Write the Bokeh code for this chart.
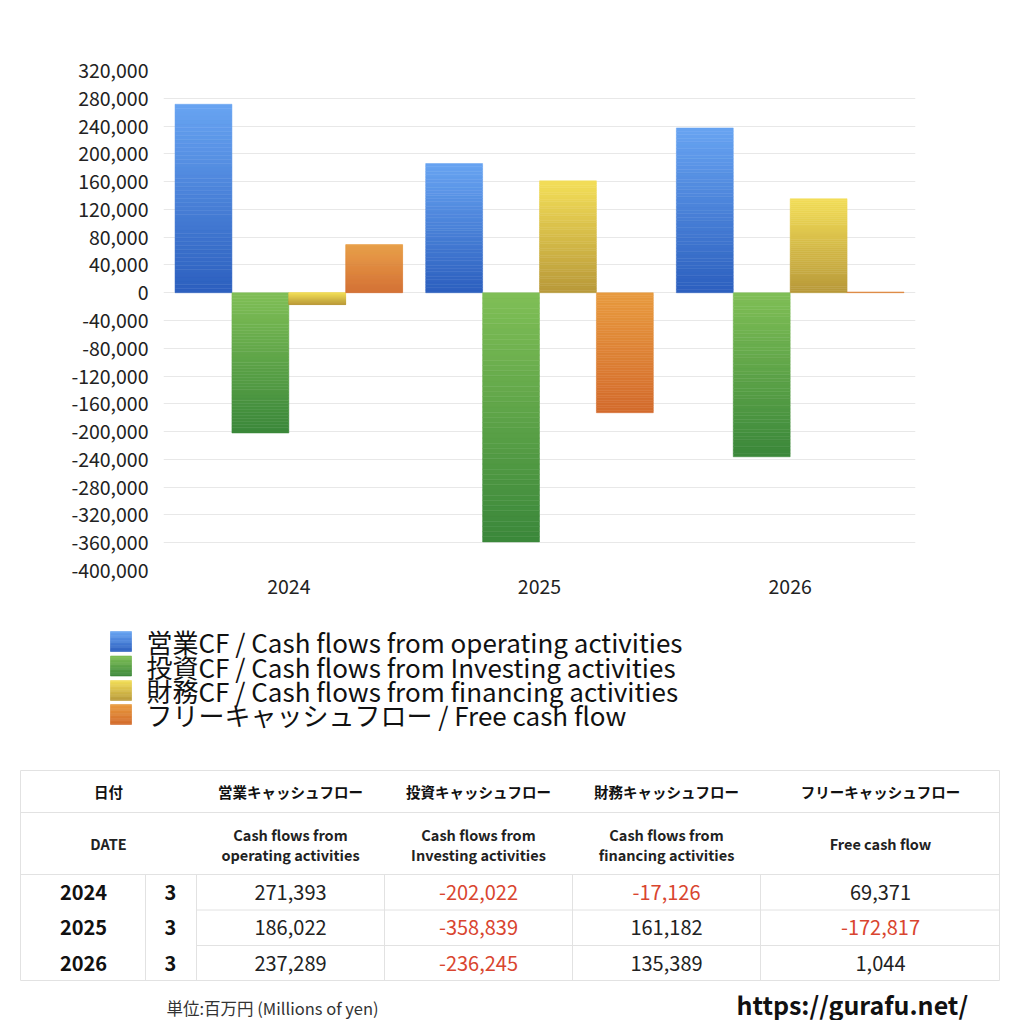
from bokeh.plotting import figure
from bokeh.layouts import column, row
from bokeh.models import Range1d, FixedTicker, NumeralTickFormatter, ColumnDataSource
from bokeh.core.properties import value
from bokeh.embed import file_html
from bokeh.resources import INLINE

# ---------------- data ----------------
years = ["2024", "2025", "2026"]
months = ["3", "3", "3"]
operating = [271393, 186022, 237289]
investing = [-202022, -358839, -236245]
financing = [-17126, 161182, 135389]
free_cf = [69371, -172817, 1044]
series_names = [
    "営業CF / Cash flows from operating activities",
    "投資CF / Cash flows from Investing activities",
    "財務CF / Cash flows from financing activities",
    "フリーキャッシュフロー / Free cash flow",
]
head_jp = ["営業キャッシュフロー", "投資キャッシュフロー", "財務キャッシュフロー", "フリーキャッシュフロー"]
head_en = [["Cash flows from", "operating activities"],
           ["Cash flows from", "Investing activities"],
           ["Cash flows from", "financing activities"],
           ["Free cash flow"]]
y_ticks = list(range(-400000, 320001, 40000))
unit_label = "単位:百万円 (Millions of yen)"
site_label = "https://gurafu.net/"

# ---------------- style ----------------
FONT = "Noto Sans CJK JP"
grads = [("#2c5fbe", "#68a4f2"),   # bottom, top
         ("#3a873a", "#80bf56"),
         ("#b8993a", "#f3de58"),
         ("#d36a2c", "#e89a3e")]
NSEG = 48
BW = 0.227


def mix(c1, c2, t):
    a = [int(c1[i:i + 2], 16) for i in (1, 3, 5)]
    b = [int(c2[i:i + 2], 16) for i in (1, 3, 5)]
    return "#%02x%02x%02x" % tuple(round(a[k] + (b[k] - a[k]) * t) for k in range(3))


def grad_quads(l, r, b, t, c_bot, c_top, n):
    L, R, B, T, C = [], [], [], [], []
    for k in range(n):
        y0 = b + (t - b) * k / n
        y1 = b + (t - b) * (k + 1) / n
        L.append(l); R.append(r); B.append(y0); T.append(y1)
        C.append(mix(c_bot, c_top, (k + 0.5) / n))
    return L, R, B, T, C


# ---------------- chart ----------------
W = 1008
H1 = 605
p = figure(width=W, height=H1, output_backend="svg", toolbar_location=None,
           x_range=Range1d(0, 3), y_range=Range1d(-400000, 320000),
           min_border_left=163, min_border_right=W - 915, min_border_top=70,
           min_border_bottom=H1 - 570)
p.outline_line_color = None
p.background_fill_color = "white"
p.border_fill_color = "white"

all_series = [operating, investing, financing, free_cf]
L, R, B, T, C = [], [], [], [], []
for j, ser in enumerate(all_series):
    for i, v in enumerate(ser):
        left = i + 0.5 + (j - 2) * BW
        n = NSEG if abs(v) > 5000 else 1
        l_, r_, b_, t_, c_ = grad_quads(left, left + BW, min(v, 0), max(v, 0),
                                         grads[j][0], grads[j][1], n)
        L += l_; R += r_; B += b_; T += t_; C += c_
src = ColumnDataSource(dict(left=L, right=R, bottom=B, top=T, color=C))
p.quad(left="left", right="right", bottom="bottom", top="top", source=src,
       fill_color="color", line_color="color", line_width=0.5)

p.yaxis.ticker = FixedTicker(ticks=y_ticks)
p.yaxis.formatter = NumeralTickFormatter(format="0,0")
p.yaxis.axis_line_color = None
p.yaxis.major_tick_line_color = None
p.yaxis.minor_tick_line_color = None
p.yaxis.major_label_standoff = 9
p.yaxis.major_label_text_font = FONT
p.yaxis.major_label_text_font_size = "19.5px"
p.yaxis.major_label_text_color = "#222222"

p.xaxis.ticker = FixedTicker(ticks=[i + 0.5 for i in range(len(years))])
p.xaxis.major_label_overrides = {i + 0.5: y for i, y in enumerate(years)}
p.xaxis.axis_line_color = None
p.xaxis.major_tick_line_color = None
p.xaxis.minor_tick_line_color = None
p.xaxis.major_label_standoff = 2
p.xaxis.major_label_text_font = FONT
p.xaxis.major_label_text_font_size = "19.5px"
p.xaxis.major_label_text_color = "#222222"

p.xgrid.grid_line_color = None
p.ygrid.ticker = FixedTicker(ticks=y_ticks)
p.ygrid.grid_line_color = "#e8e8e8"
p.ygrid.grid_line_width = 1

# ---------------- legend + table (page coordinates) ----------------
TOP = H1
H2 = 1020 - H1
q = figure(width=W, height=H2, output_backend="svg", toolbar_location=None,
           x_range=Range1d(0, W), y_range=Range1d(TOP + H2, TOP),
           min_border=0, min_border_left=0, min_border_right=0,
           min_border_top=0, min_border_bottom=0)
q.axis.visible = False
q.grid.visible = False
q.outline_line_color = None
q.background_fill_color = "white"
q.border_fill_color = "white"

# legend
leg_y = [641, 665.5, 690, 714]
LL, LR, LB, LT, LC = [], [], [], [], []
for j in range(4):
    l_, r_, b_, t_, c_ = grad_quads(110, 131, leg_y[j] + 10, leg_y[j] - 10,
                                     grads[j][0], grads[j][1], 16)
    LL += l_; LR += r_; LB += b_; LT += t_; LC += c_
q.quad(left=LL, right=LR, bottom=LB, top=LT, fill_color=LC, line_color=LC, line_width=0.6)
q.text(x=[146] * 4, y=leg_y, text=series_names, text_font=value(FONT),
       text_font_size="26px", text_baseline="middle", text_align="left",
       text_color="#111111")

# table lines
GRID = "#e2e2e2"
x0, x1 = 20, 999
ytop, yh1, yh2, yr1, yr2, ybot = 770, 812, 874, 909.5, 945, 980
hx0 = [x0, x0, x0, x0, 196, 196]
hx1 = [x1, x1, x1, x1, x1, x1]
hy = [ytop, yh1, yh2, ybot, yr1, yr2]
q.segment(x0=hx0, y0=hy, x1=hx1, y1=hy, line_color=GRID, line_width=1)
vx = [x0, x1, 145, 196, 384, 572, 760]
vy0 = [ytop, ytop, yh2, yh2, yh2, yh2, yh2]
vy1 = [ybot] * 7
q.segment(x0=vx, y0=vy0, x1=vx, y1=vy1, line_color=GRID, line_width=1)

col_cx = [290, 478, 666, 880]
# header row 1
q.text(x=[108] + col_cx, y=[791] * 5, text=["日付"] + head_jp, text_font=value(FONT),
       text_font_style="bold", text_font_size="14.5px", text_align="center",
       text_baseline="middle", text_color="#111111")
# header row 2
hx, hyy, ht = [108], [843], ["DATE"]
for cx, lines in zip(col_cx, head_en):
    if len(lines) == 2:
        hx += [cx, cx]; hyy += [834, 854]; ht += lines
    else:
        hx.append(cx); hyy.append(843); ht.append(lines[0])
q.text(x=hx, y=hyy, text=ht, text_font=value(FONT), text_font_style="bold",
       text_font_size="14.5px", text_align="center", text_baseline="middle",
       text_color="#222222")

# data rows
row_y = [892, 927, 963]
q.text(x=[83] * 3, y=row_y, text=years, text_font=value(FONT), text_font_style="bold",
       text_font_size="20px", text_align="center", text_baseline="middle",
       text_color="#111111")
q.text(x=[170] * 3, y=row_y, text=months, text_font=value(FONT), text_font_style="bold",
       text_font_size="20px", text_align="center", text_baseline="middle",
       text_color="#111111")
tx, ty, tt, tc = [], [], [], []
for cx, ser in zip(col_cx, all_series):
    for yy, v in zip(row_y, ser):
        tx.append(cx); ty.append(yy); tt.append(f"{v:,}")
        tc.append("#d9452f" if v < 0 else "#222222")
q.text(x=tx, y=ty, text=tt, text_color=tc, text_font=value(FONT),
       text_font_size="20px", text_align="center", text_baseline="middle")

# footer
q.text(x=[272], y=[1007], text=[unit_label], text_font=value(FONT),
       text_font_size="16.5px", text_align="center", text_baseline="middle",
       text_color="#333333")
q.text(x=[736], y=[1003], text=[site_label], text_font=value(FONT),
       text_font_style="bold", text_font_size="25px", text_align="left",
       text_baseline="middle", text_color="#111111")

layout = column(p, row(q), spacing=0)
open("out.html", "w").write(file_html(layout, INLINE))
